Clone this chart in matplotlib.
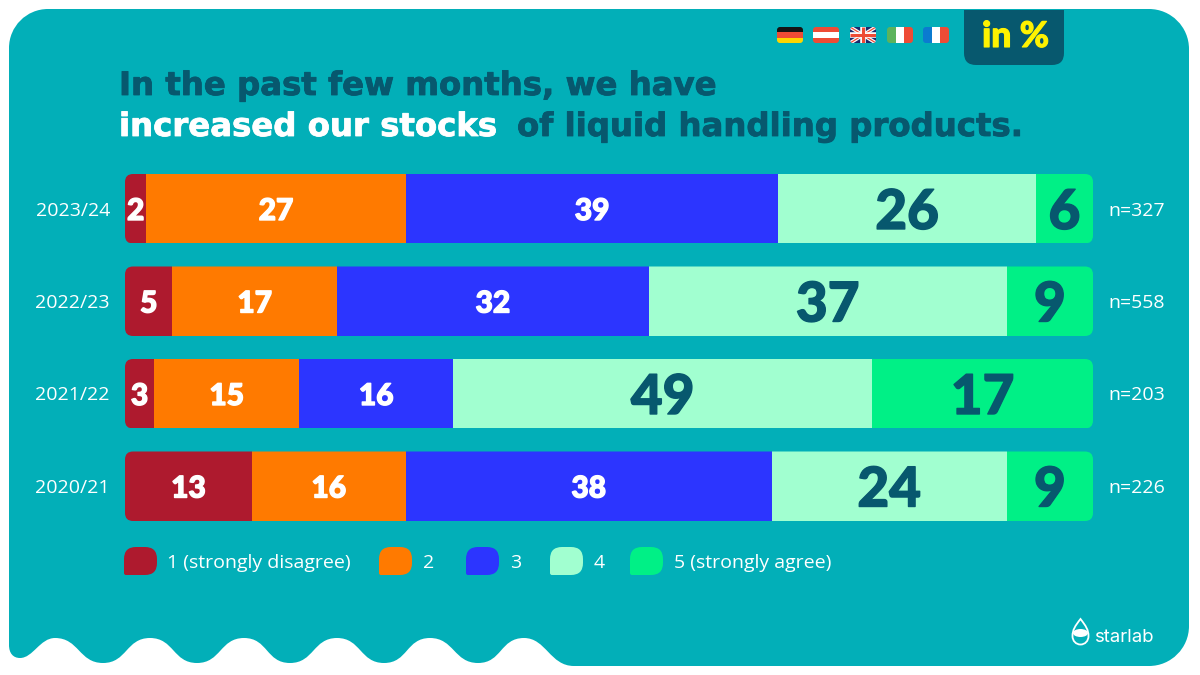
import matplotlib
matplotlib.use("Agg")
import matplotlib.pyplot as plt
import matplotlib.patheffects as pe
from matplotlib.patches import FancyBboxPatch, PathPatch, Rectangle, Ellipse
from matplotlib.path import Path

# 1. Data
years = ["2023/24", "2022/23", "2021/22", "2020/21"]
counts = ["n=327", "n=558", "n=203", "n=226"]
legend_labels = ["1 (strongly disagree)", "2", "3", "4", "5 (strongly agree)"]

# drawn segment widths (they do not always agree with the printed labels)
widths_1 = [2.2, 4.9, 3.0, 13.1]
widths_2 = [26.8, 17.0, 15.0, 15.9]
widths_3 = [38.5, 32.2, 15.9, 37.8]
widths_4 = [26.6, 37.0, 43.3, 24.3]
widths_5 = [5.9, 8.9, 22.8, 8.9]

labels_1 = [2, 5, 3, 13]
labels_2 = [27, 17, 15, 16]
labels_3 = [39, 32, 16, 38]
labels_4 = [26, 37, 49, 24]
labels_5 = [6, 9, 17, 9]

widths = [widths_1, widths_2, widths_3, widths_4, widths_5]
labels = [labels_1, labels_2, labels_3, labels_4, labels_5]

TEAL = "#02AFB8"
DARK = "#07586E"
YELLOW = "#FFF200"
colors = ["#AE1A2E", "#FF7A00", "#2C35FF", "#A1FFD0", "#00F086"]
label_colors = ["white", "white", "white", DARK, DARK]
label_sizes = [21.5, 21.5, 21.5, 39.5, 39.5]

HEAD = "Lato"
TITLE = "DejaVu Sans"
BODY = "Open Sans"

fig = plt.figure(figsize=(12, 6.75), dpi=100, facecolor="white")

# 2. Page in pixel coordinates
bg = fig.add_axes([0, 0, 1, 1])
bg.set_xlim(0, 1200)
bg.set_ylim(675, 0)
bg.axis("off")

wave_peaks = [524, 430, 337, 244, 150, 55]
wave_troughs = [478, 384, 290, 197, 103]
k = 0.5523
verts = [(48, 9), (1149, 9)]
codes = [Path.MOVETO, Path.LINETO]
verts += [(1149 + 40 * k, 9), (1189, 49 - 40 * k), (1189, 49)]
codes += [Path.CURVE4] * 3
verts += [(1189, 626)]
codes += [Path.LINETO]
verts += [(1189, 626 + 40 * k), (1149 + 40 * k, 666), (1149, 666)]
codes += [Path.CURVE4] * 3
verts += [(574, 666)]
codes += [Path.LINETO]
verts += [(550, 666), (546, 638), (524, 638)]
codes += [Path.CURVE4] * 3
x0 = 524
for i in range(5):
    xt = wave_troughs[i]
    xp = wave_peaks[i + 1]
    verts += [(x0 - 24, 638), (xt + 24, 663), (xt, 663)]
    codes += [Path.CURVE4] * 3
    verts += [(xt - 24, 663), (xp + 24, 638), (xp, 638)]
    codes += [Path.CURVE4] * 3
    x0 = xp
verts += [(40, 638), (33, 658), (20, 658)]
codes += [Path.CURVE4] * 3
verts += [(13, 658), (9, 653), (9, 645)]
codes += [Path.CURVE4] * 3
verts += [(9, 48)]
codes += [Path.LINETO]
verts += [(9, 48 - 39 * k), (48 - 39 * k, 9), (48, 9), (48, 9)]
codes += [Path.CURVE4] * 3 + [Path.CLOSEPOLY]
bg.add_patch(PathPatch(Path(verts, codes), fc=TEAL, ec="none"))

# "in %" tab
tab_verts = [(964, 10), (1064, 10), (1064, 53), (1064, 65), (1052, 65), (976, 65), (964, 65), (964, 53), (964, 10)]
tab_codes = [Path.MOVETO, Path.LINETO, Path.LINETO, Path.CURVE3, Path.CURVE3, Path.LINETO, Path.CURVE3, Path.CURVE3, Path.CLOSEPOLY]
bg.add_patch(PathPatch(Path(tab_verts, tab_codes), fc=DARK, ec="none"))
bg.text(1015.5, 37, "in %", color=YELLOW, fontsize=25.5, fontweight="black", family=HEAD, ha="center", va="center",
        path_effects=[pe.withStroke(linewidth=0.8, foreground=YELLOW)])


# 3. Flags
def flag(x, stripes, vertical=False):
    box = FancyBboxPatch((x, 27), 26, 16, boxstyle="round,pad=0,rounding_size=3", fc="none", ec="none")
    bg.add_patch(box)
    n = len(stripes)
    for i, c in enumerate(stripes):
        if vertical:
            r = Rectangle((x + i * 26 / n, 27), 26 / n, 16, fc=c, ec="none")
        else:
            r = Rectangle((x, 27 + i * 16 / n), 26, 16 / n, fc=c, ec="none")
        bg.add_patch(r)
        r.set_clip_path(box)


flag(777, ["#141414", "#EE4B35", "#FFD500"])
flag(813, ["#EE4B35", "white", "#EE4B35"])
flag(887, ["#5CB35C", "white", "#EE4B35"], vertical=True)
flag(923, ["#0B7BD0", "white", "#EE4B35"], vertical=True)
flag(850, ["#1A2A6C"])
uk = FancyBboxPatch((850, 27), 26, 16, boxstyle="round,pad=0,rounding_size=3", fc="none", ec="none")
bg.add_patch(uk)
uk_lines = [
    bg.plot([850, 876], [27, 43], color="white", lw=2.6, solid_capstyle="butt")[0],
    bg.plot([850, 876], [43, 27], color="white", lw=2.6, solid_capstyle="butt")[0],
    bg.plot([850, 876], [27, 43], color="#EE4B35", lw=0.9, solid_capstyle="butt")[0],
    bg.plot([850, 876], [43, 27], color="#EE4B35", lw=0.9, solid_capstyle="butt")[0],
    bg.plot([863, 863], [27, 43], color="white", lw=4, solid_capstyle="butt")[0],
    bg.plot([850, 876], [35, 35], color="white", lw=4, solid_capstyle="butt")[0],
    bg.plot([863, 863], [27, 43], color="#EE4B35", lw=2.2, solid_capstyle="butt")[0],
    bg.plot([850, 876], [35, 35], color="#EE4B35", lw=2.2, solid_capstyle="butt")[0],
]
for ln in uk_lines:
    ln.set_clip_path(uk)
bg.set_xlim(0, 1200)
bg.set_ylim(675, 0)

# 4. Title
dark_edge = [pe.withStroke(linewidth=0.6, foreground=DARK)]
white_edge = [pe.withStroke(linewidth=0.6, foreground="white")]
bg.text(119, 95, "In the past few months, we have", color=DARK, fontsize=23.3, fontweight="bold", family=TITLE, va="baseline", path_effects=dark_edge)
bg.text(119, 136, "increased our stocks", color="white", fontsize=23.3, fontweight="bold", family=TITLE, va="baseline", path_effects=white_edge)
bg.text(517, 136, "of liquid handling products.", color=DARK, fontsize=23.3, fontweight="bold", family=TITLE, va="baseline", path_effects=dark_edge)

# 5. Stacked bars
ax = fig.add_axes([125 / 1200, 1 - 532.25 / 675, 968 / 1200, 370 / 675])
ax.patch.set_alpha(0)
ax.set_xlim(0, 100)
ax.set_ylim(3.5, -0.5)
for s in ax.spines.values():
    s.set_visible(False)
ax.set_xticks([])
ax.set_yticks(range(len(years)))
ax.set_yticklabels(years, fontsize=14, color="white", family=BODY, va="center_baseline")
ax.tick_params(axis="y", length=0, pad=10.8)

clips = []
for row in range(len(years)):
    top = 174 + row * 92.5
    box = FancyBboxPatch((125, top), 968, 69.5, boxstyle="round,pad=0,rounding_size=8", fc="none", ec="none")
    box.set_transform(bg.transData)
    clips.append(box)

for row in range(len(years)):
    left = 0
    for seg in range(5):
        w = widths[seg][row]
        bar = ax.barh(row, w, left=left, height=0.752, color=colors[seg], linewidth=0)[0]
        bar.set_clip_path(clips[row])
        ax.text(left + w / 2, row, str(labels[seg][row]), color=label_colors[seg], fontsize=label_sizes[seg],
                fontweight="black", family=HEAD, ha="center", va="center_baseline",
                path_effects=[pe.withStroke(linewidth=1.0, foreground=label_colors[seg])])
        left += w
    ax.text(101.55, row, counts[row], color="white", fontsize=14, family=BODY, va="center_baseline")

# 6. Legend
legend_x = [124, 379, 466, 550, 630]
text_x = [167, 423, 510, 594, 674]
for lx, tx, c, lab in zip(legend_x, text_x, colors, legend_labels):
    w, h, r = 33, 28, 12
    xa, xb, ya, yb = lx, lx + w, 547, 547 + h
    sw = Path(
        [(xa + r, ya), (xb - r, ya), (xb, ya), (xb, ya + r), (xb, yb - r), (xb, yb), (xb - r, yb),
         (xa + 2, yb), (xa, yb), (xa, yb - 2), (xa, ya + r), (xa, ya), (xa + r, ya), (xa + r, ya)],
        [Path.MOVETO, Path.LINETO, Path.CURVE3, Path.CURVE3, Path.LINETO, Path.CURVE3, Path.CURVE3,
         Path.LINETO, Path.CURVE3, Path.CURVE3, Path.LINETO, Path.CURVE3, Path.CURVE3, Path.CLOSEPOLY],
    )
    bg.add_patch(PathPatch(sw, fc=c, ec="none"))
    bg.text(tx, 561, lab, color="white", fontsize=14, family=BODY, va="center_baseline")

# 7. Logo
drop = Path(
    [(1080.5, 619), (1075, 626), (1072.5, 630), (1072.5, 636), (1072.5, 641), (1076, 644.5), (1080.5, 644.5),
     (1085, 644.5), (1088.5, 641), (1088.5, 636), (1088.5, 630), (1086, 626), (1080.5, 619), (1080.5, 619)],
    [Path.MOVETO] + [Path.CURVE4] * 12 + [Path.CLOSEPOLY],
)
bg.add_patch(PathPatch(drop, fc="none", ec="white", lw=1.3))
bg.add_patch(Ellipse((1080.5, 633), 15, 8, fc="white", ec="none"))
bg.text(1094, 638, "starlab", color="white", fontsize=13.4, family="Inter", va="center")

plt.savefig("out.png", dpi=100, facecolor="white")
